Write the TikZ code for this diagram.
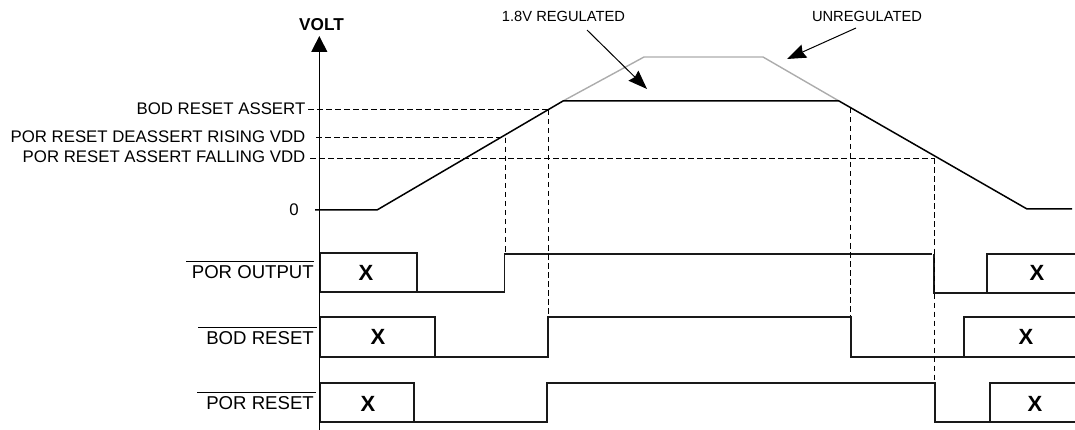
\documentclass[tikz,border=0pt]{standalone}
\usepackage{fontspec}
\setmainfont{Liberation Sans}
\usetikzlibrary{arrows.meta,calc}
\tikzset{
 lab/.style={inner sep=0pt,anchor=base east,font=\fontsize{16.8}{17}\selectfont},
 siglab/.style={inner sep=0pt,anchor=base east,font=\fontsize{18.6}{19}\selectfont},
 small/.style={inner sep=0pt,anchor=base,font=\fontsize{14.7}{15}\selectfont},
 xmark/.style={inner sep=0pt,font=\fontsize{22}{22}\selectfont\bfseries},
 sig/.style={line width=1.3pt,black!90},
 guide/.style={line width=1pt,dash pattern=on 5.5pt off 3.5pt},
 reg/.style={line width=1.5pt,black},
 unreg/.style={line width=1.4pt,gray!65},
 pointer/.style={line width=1pt,-{Stealth[length=19pt,width=14pt,inset=2pt]}},
 ovl/.style={line width=0.9pt}
}
\begin{document}
\begin{tikzpicture}[x=1pt,y=-1pt]
\useasboundingbox (0,0) rectangle (1075,430);
% axis
\coordinate (axT) at (319.3,36);
\coordinate (axB) at (319.3,430);
\draw[line width=1pt,-{Triangle[length=16pt,width=16pt]}] (axB) -- (axT);
\node[inner sep=0pt,anchor=base,font=\fontsize{17.2}{17}\selectfont\bfseries] (volt) at (321.5,30.7) {VOLT};
% level labels
\node[lab] (bod) at (305.5,115) {BOD RESET ASSERT};
\node[lab] (pord) at (305.5,142.5) {POR RESET DEASSERT RISING VDD};
\node[lab] (pora) at (305.5,162.5) {POR RESET ASSERT FALLING VDD};
\node[lab] (zero) at (299,216) {0};
% ramp
\coordinate (r0) at (315,210);
\coordinate (r1) at (377,210);
\coordinate (r2) at (563,101);
\coordinate (r3) at (839,101);
\coordinate (r4) at (1027,209);
\coordinate (r5) at (1072,209);
\coordinate (u1) at (644,57);
\coordinate (u2) at (763,57);
\draw[unreg] (r2) -- (u1) -- (u2) -- (r3);
\draw[reg] (r0) -- (r1) -- (r2) -- (r3) -- (r4) -- (r5);
% top labels
\node[small] (reglab) at (563.5,21.3) {1.8V REGULATED};
\node[small] (unreglab) at (867,22) {UNREGULATED};
\coordinate (regA) at (587,30);
\coordinate (regB) at (647,89);
\coordinate (unA) at (856,28);
\coordinate (unB) at (787,59);
\draw[pointer] (regA) -- (regB);
\draw[pointer] (unA) -- (unB);
% signal labels
\node[siglab] (s1) at (314,278) {POR OUTPUT};
\node[siglab] (s2) at (314,344) {BOD RESET};
\node[siglab] (s3) at (314,409) {POR RESET};
\coordinate (o1a) at (186,261); \coordinate (o1b) at (314,261);
\coordinate (o2a) at (198,327.3); \coordinate (o2b) at (317,327.3);
\coordinate (o3a) at (197,392); \coordinate (o3b) at (316,392);
\draw[ovl] (o1a) -- (o1b);
\draw[ovl] (o2a) -- (o2b);
\draw[ovl] (o3a) -- (o3b);
% signals
\draw[sig] (320.7,292) -- (320.7,253) -- (417,253) -- (417,292) -- cycle;
\draw[sig] (417,292) -- (504.5,292) -- (504.5,254) -- (932,254);
\draw[sig] (934,254) -- (934,293) -- (987,293) -- (987,254) -- (1075,254);
\draw[sig] (987,293) -- (1075,293);
\draw[sig] (320.7,357) -- (320.7,317) -- (435,317) -- (435,357) -- cycle;
\draw[sig] (435,357) -- (548,357) -- (548,317) -- (851,317) -- (851,357) -- (964,357) -- (964,317) -- (1075,317);
\draw[sig] (964,357) -- (1075,357);
\draw[sig] (320.7,422) -- (320.7,383) -- (414,383) -- (414,422) -- cycle;
\draw[sig] (414,422) -- (547,422) -- (547,383) -- (935,383) -- (935,422) -- (990,422) -- (990,383) -- (1075,383);
\draw[sig] (990,422) -- (1075,422);
% X
\node[xmark] (x1) at (366,273) {X};
\node[xmark] (x2) at (378,337) {X};
\node[xmark] (x3) at (368,404) {X};
\node[xmark] (x4) at (1037,273) {X};
\node[xmark] (x5) at (1026,337) {X};
\node[xmark] (x6) at (1035,404) {X};
% guides
\draw[guide] (308,110) -- (548.5,110);
\draw[guide] (316,138) -- (505,138);
\draw[guide] (310,158.5) -- (934,158.5);
\draw[guide] (505,138) -- (505,253);
\draw[guide] (548.5,110) -- (548.5,316);
\draw[guide] (850,108) -- (850,316);
\draw[guide] (934,158.5) -- (934,381);
\end{tikzpicture}
\end{document}
